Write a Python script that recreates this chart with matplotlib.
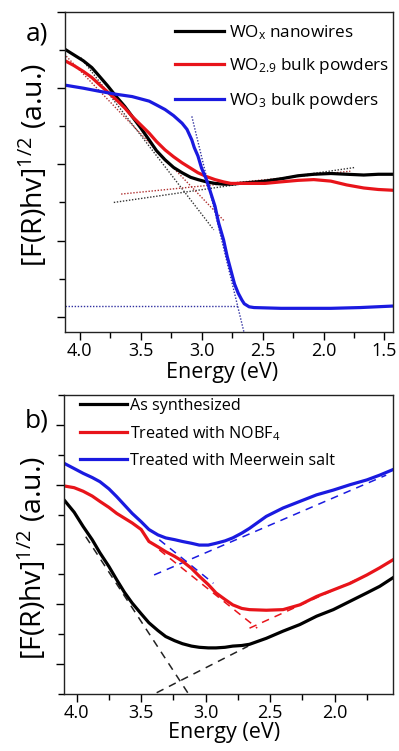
import matplotlib
matplotlib.use("Agg")
import matplotlib.pyplot as plt
from matplotlib.ticker import MultipleLocator

plt.rcParams['font.family'] = ['Open Sans', 'DejaVu Sans']
plt.rcParams['mathtext.fontset'] = 'custom'
plt.rcParams['mathtext.rm'] = 'Open Sans'
plt.rcParams['mathtext.it'] = 'Open Sans:italic'

# ---------------- Panel a data ----------------
a_black_x = [4.12, 4.05, 3.97, 3.90, 3.84, 3.77, 3.70, 3.63, 3.57, 3.50, 3.43, 3.37, 3.30, 3.23, 3.16, 3.09, 3.03, 2.96, 2.89, 2.82, 2.76, 2.62, 2.48, 2.35, 2.21, 2.08, 1.94, 1.81, 1.67, 1.55, 1.43]
a_black_y = [3.51, 3.44, 3.36, 3.27, 3.16, 3.03, 2.89, 2.76, 2.63, 2.48, 2.32, 2.18, 2.06, 1.96, 1.89, 1.83, 1.80, 1.77, 1.75, 1.74, 1.74, 1.76, 1.78, 1.81, 1.85, 1.87, 1.88, 1.87, 1.86, 1.87, 1.87]
a_red_x = [4.12, 4.05, 3.97, 3.90, 3.84, 3.77, 3.70, 3.63, 3.57, 3.50, 3.43, 3.37, 3.30, 3.23, 3.16, 3.09, 3.03, 2.96, 2.89, 2.82, 2.76, 2.62, 2.48, 2.35, 2.21, 2.08, 1.94, 1.81, 1.67, 1.55, 1.43]
a_red_y = [3.36, 3.30, 3.22, 3.14, 3.05, 2.95, 2.85, 2.74, 2.63, 2.52, 2.41, 2.30, 2.19, 2.10, 2.02, 1.95, 1.89, 1.84, 1.80, 1.77, 1.75, 1.75, 1.75, 1.77, 1.79, 1.80, 1.78, 1.73, 1.69, 1.67, 1.66]
a_blue_x = [4.12, 3.97, 3.84, 3.70, 3.57, 3.43, 3.37, 3.30, 3.23, 3.16, 3.12, 3.08, 3.06, 3.03, 3.00, 2.96, 2.92, 2.89, 2.86, 2.82, 2.79, 2.76, 2.73, 2.70, 2.67, 2.65, 2.61, 2.57, 2.35, 2.10, 1.94, 1.70, 1.43]
a_blue_y = [3.04, 3.00, 2.96, 2.92, 2.89, 2.83, 2.78, 2.72, 2.64, 2.54, 2.46, 2.32, 2.22, 2.11, 1.95, 1.80, 1.60, 1.45, 1.23, 1.01, 0.79, 0.61, 0.43, 0.31, 0.22, 0.17, 0.13, 0.12, 0.11, 0.11, 0.11, 0.12, 0.14]
a_labels = [r'WO$_\mathregular{x}$ nanowires', r'WO$_\mathregular{2.9}$ bulk powders', r'WO$_\mathregular{3}$ bulk powders']
# fitted tangent lines (x pairs, y pairs)
a_black_fit1 = ([3.99, 2.90], [3.40, 1.14])
a_black_fit2 = ([3.72, 1.74], [1.50, 1.96])
a_red_fit1 = ([4.11, 2.81], [3.42, 1.25])
a_red_fit2 = ([3.66, 1.78], [1.61, 1.91])
a_blue_fit1 = ([3.08, 2.65], [2.63, -0.22])
a_blue_fit2 = ([4.12, 2.70], [0.14, 0.14])

# ---------------- Panel b data ----------------
b_black_x = [4.10, 4.02, 3.95, 3.88, 3.82, 3.75, 3.69, 3.63, 3.57, 3.50, 3.44, 3.37, 3.31, 3.24, 3.18, 3.11, 3.05, 2.98, 2.92, 2.85, 2.79, 2.72, 2.66, 2.53, 2.40, 2.27, 2.14, 2.01, 1.88, 1.75, 1.65, 1.55]
b_black_y = [2.75, 2.54, 2.30, 2.08, 1.86, 1.63, 1.41, 1.20, 1.02, 0.84, 0.69, 0.56, 0.46, 0.39, 0.34, 0.30, 0.28, 0.27, 0.27, 0.28, 0.30, 0.31, 0.33, 0.43, 0.55, 0.66, 0.80, 0.91, 1.05, 1.19, 1.30, 1.44]
b_red_x = [4.10, 4.02, 3.95, 3.88, 3.82, 3.75, 3.69, 3.63, 3.57, 3.50, 3.44, 3.37, 3.31, 3.24, 3.18, 3.11, 3.05, 2.98, 2.92, 2.85, 2.79, 2.72, 2.66, 2.53, 2.40, 2.27, 2.14, 2.01, 1.88, 1.75, 1.65, 1.55]
b_red_y = [2.98, 2.95, 2.89, 2.81, 2.72, 2.62, 2.52, 2.44, 2.36, 2.25, 2.05, 1.96, 1.88, 1.80, 1.72, 1.60, 1.47, 1.33, 1.19, 1.08, 0.99, 0.93, 0.91, 0.90, 0.91, 0.99, 1.13, 1.24, 1.35, 1.49, 1.61, 1.74]
b_blue_x = [4.10, 4.02, 3.95, 3.88, 3.82, 3.75, 3.69, 3.63, 3.57, 3.50, 3.44, 3.37, 3.31, 3.24, 3.18, 3.11, 3.05, 2.98, 2.92, 2.85, 2.79, 2.72, 2.66, 2.53, 2.40, 2.27, 2.14, 2.01, 1.88, 1.75, 1.65, 1.55]
b_blue_y = [3.36, 3.27, 3.19, 3.12, 3.05, 2.93, 2.80, 2.66, 2.52, 2.38, 2.25, 2.16, 2.11, 2.08, 2.05, 2.02, 1.99, 1.99, 2.02, 2.06, 2.11, 2.19, 2.27, 2.47, 2.61, 2.72, 2.83, 2.91, 3.00, 3.08, 3.16, 3.25]
b_labels = ['As synthesized', r'Treated with NOBF$_\mathregular{4}$', 'Treated with Meerwein salt']
b_black_fit1 = ([3.93, 3.13], [2.13, -0.51])
b_black_fit2 = ([3.38, 2.67], [-0.48, 0.30])
b_red_fit1 = ([3.36, 2.60], [1.91, 0.60])
b_red_fit2 = ([2.66, 1.75], [0.60, 1.49])
b_blue_fit1 = ([3.36, 2.94], [2.08, 1.35])
b_blue_fit2 = ([3.40, 1.60], [1.49, 3.16])

xticks_a = [4.0, 3.5, 3.0, 2.5, 2.0, 1.5]
xticks_b = [4.0, 3.5, 3.0, 2.5, 2.0]

RED = '#e8141a'
BLUE = '#1a1ae0'
BLACK = '#000000'

fig = plt.figure(figsize=(3.99, 7.51), dpi=100)
axa = fig.add_axes([0.163, 0.558, 0.822, 0.426])
axb = fig.add_axes([0.160, 0.076, 0.825, 0.398])

ylabel = r'[F(R)hv]$^{\mathregular{1/2}}$ (a.u.)'

def style(ax, xticks, xlab_xy, ylab_xy):
    for s in ax.spines.values():
        s.set_linewidth(1.0)
        s.set_color('#222222')
    ax.set_xticks(xticks)
    ax.set_xticklabels(['%.1f' % t for t in xticks])
    ax.xaxis.set_minor_locator(MultipleLocator(0.25))
    ax.yaxis.set_major_locator(MultipleLocator(1.0))
    ax.yaxis.set_minor_locator(MultipleLocator(0.5))
    ax.tick_params(which='major', direction='out', length=6, width=1, labelsize=13, pad=1.5)
    ax.tick_params(which='minor', direction='out', length=4, width=1)
    ax.tick_params(axis='y', which='both', labelleft=False)
    ax.set_xlabel('Energy (eV)', fontsize=15.5)
    ax.xaxis.set_label_coords(*xlab_xy)
    ax.set_ylabel(ylabel, fontsize=20.5)
    ax.yaxis.set_label_coords(*ylab_xy)

DOT = (0, (1, 1.2))
# Panel a
axa.plot(*a_black_fit1, ls=DOT, color='#333333', lw=1)
axa.plot(*a_black_fit2, ls=DOT, color='#333333', lw=1)
axa.plot(*a_red_fit1, ls=DOT, color='#b03030', lw=1)
axa.plot(*a_red_fit2, ls=DOT, color='#b03030', lw=1)
axa.plot(*a_blue_fit1, ls=DOT, color='#3030a0', lw=1)
axa.plot(*a_blue_fit2, ls=DOT, color='#3030a0', lw=1)
la1, = axa.plot(a_black_x, a_black_y, color=BLACK, lw=2.3)
la2, = axa.plot(a_red_x, a_red_y, color=RED, lw=2.3)
la3, = axa.plot(a_blue_x, a_blue_y, color=BLUE, lw=2.3)
axa.set_xlim(4.12, 1.43)
axa.set_ylim(-0.2, 4.0)
style(axa, xticks_a, (0.479, -0.093), (-0.045, 0.523))
axa.legend([la1, la2, la3], a_labels, loc='upper left', bbox_to_anchor=(0.335, 0.965),
           frameon=False, fontsize=12.3, handlelength=2.9, handletextpad=0.25,
           borderaxespad=0, borderpad=0, labelspacing=0.85)

# Panel b
DASH = (0, (5, 4))
axb.plot(*b_black_fit1, ls=DASH, color='#222222', lw=1.1)
axb.plot(*b_black_fit2, ls=DASH, color='#222222', lw=1.1)
axb.plot(*b_red_fit1, ls=DASH, color=RED, lw=1.1)
axb.plot(*b_red_fit2, ls=DASH, color=RED, lw=1.1)
axb.plot(*b_blue_fit1, ls=DASH, color=BLUE, lw=1.1)
axb.plot(*b_blue_fit2, ls=DASH, color=BLUE, lw=1.1)
lb1, = axb.plot(b_black_x, b_black_y, color=BLACK, lw=2.3)
lb2, = axb.plot(b_red_x, b_red_y, color=RED, lw=2.3)
lb3, = axb.plot(b_blue_x, b_blue_y, color=BLUE, lw=2.3)
axb.set_xlim(4.10, 1.547)
axb.set_ylim(-0.5, 4.5)
style(axb, xticks_b, (0.488, -0.094), (-0.045, 0.455))
axb.legend([lb1, lb2, lb3], b_labels, loc='upper left', bbox_to_anchor=(0.048, 0.99),
           frameon=False, fontsize=11.6, handlelength=2.95, handletextpad=0.15,
           borderaxespad=0, borderpad=0, labelspacing=0.62)

fig.text(0.093, 0.955, 'a)', fontsize=19, ha='center', va='center')
fig.text(0.093, 0.439, 'b)', fontsize=19, ha='center', va='center')

fig.savefig('out.png', dpi=100)
